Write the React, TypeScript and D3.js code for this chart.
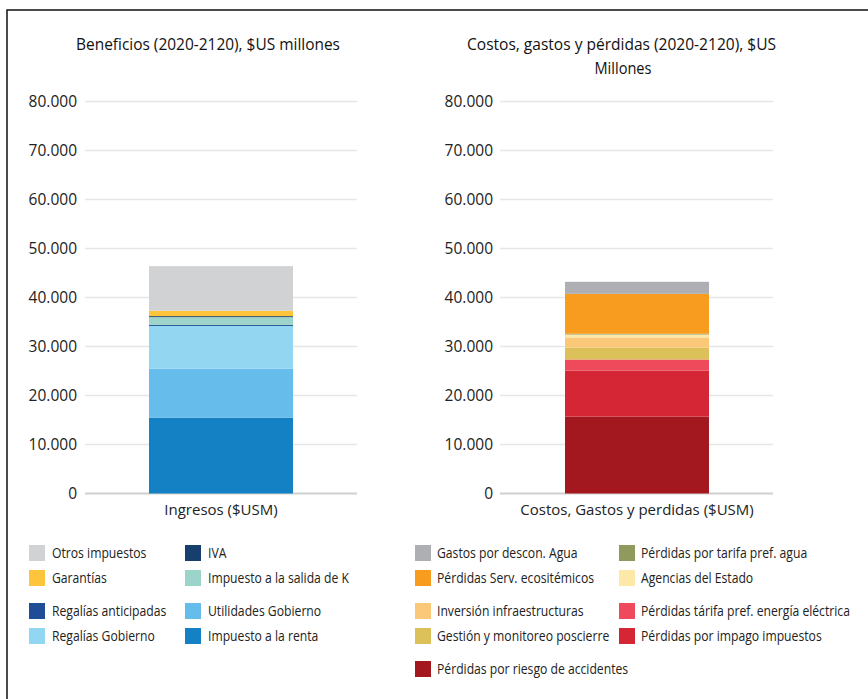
import React from "react";
import * as d3 from "d3";

const yTicks = [0, 10000, 20000, 30000, 40000, 50000, 60000, 70000, 80000];

const leftNames = [
  "Impuesto a la renta",
  "Utilidades Gobierno",
  "Regalías Gobierno",
  "Regalías anticipadas",
  "Impuesto a la salida de K",
  "IVA",
  "Garantías",
  "Otros impuestos",
];
const leftValues = [15500, 10000, 8700, 200, 1600, 200, 1100, 9100];
const leftColors = ["#1381c4", "#66bdeb", "#92d6f2", "#1f4e96", "#9dd4c9", "#163f6e", "#fec53c", "#d1d2d4"];
const leftLegendOrder = [
  "Otros impuestos", "IVA",
  "Garantías", "Impuesto a la salida de K",
  "Regalías anticipadas", "Utilidades Gobierno",
  "Regalías Gobierno", "Impuesto a la renta",
];

const rightNames = [
  "Pérdidas por riesgo de accidentes",
  "Pérdidas por impago impuestos",
  "Pérdidas tárifa pref. energía eléctrica",
  "Gestión y monitoreo poscierre",
  "Inversión infraestructuras",
  "Agencias del Estado",
  "Pérdidas por tarifa pref. agua",
  "Pérdidas Serv. ecositémicos",
  "Gastos por descon. Agua",
];
const rightValues = [15700, 9400, 2250, 2450, 2050, 600, 150, 8150, 2450];
const rightColors = ["#a3181f", "#d52635", "#ef4a5c", "#dcc05a", "#fbc87a", "#fde8a8", "#8f9a5c", "#f89c1f", "#adafb2"];
const rightLegendOrder = [
  "Gastos por descon. Agua", "Pérdidas por tarifa pref. agua",
  "Pérdidas Serv. ecositémicos", "Agencias del Estado",
  "Inversión infraestructuras", "Pérdidas tárifa pref. energía eléctrica",
  "Gestión y monitoreo poscierre", "Pérdidas por impago impuestos",
  "Pérdidas por riesgo de accidentes",
];

const FONT = "'Open Sans', 'Noto Sans', sans-serif";
const fmt = (v: number) => d3.format(",")(v).replace(/,/g, ".");

type PanelProps = {
  x0: number; x1: number; barX0: number; barX1: number;
  labelRight: number; names: string[]; values: number[]; colors: string[];
  title: { text: string; x: number; w: number }[]; category: string;
};

const y = d3.scaleLinear().domain([0, 80000]).range([493.5, 101.5]);

function Panel(p: PanelProps) {
  const stack = d3.stack<any>().keys(p.names)([
    Object.fromEntries(p.names.map((n, i) => [n, p.values[i]])),
  ]);
  const bx = d3.scaleBand().domain([p.category]).range([p.barX0, p.barX1]).padding(0);
  return (
    <g>
      {p.title.map((t, i) => (
        <text key={i} x={t.x - t.w / 2} y={50 + i * 24} textLength={t.w} lengthAdjust="spacingAndGlyphs" fontSize={15.5} fill="#111" fontFamily={FONT}>{t.text}</text>
      ))}
      {yTicks.map((t) => (
        <g key={t}>
          <line x1={p.x0} x2={p.x1} y1={y(t)} y2={y(t)} stroke={t === 0 ? "#cfcfcf" : "#e6e6e6"} strokeWidth={t === 0 ? 2 : 1.5} />
          <text x={p.labelRight} y={y(t)} dy="0.35em" textAnchor="end" fontSize={15.5} fill="#222" fontFamily={FONT}>{fmt(t)}</text>
        </g>
      ))}
      {stack.map((s, i) => (
        <rect key={p.names[i]} x={bx(p.category)} width={bx.bandwidth()} y={y(s[0][1])} height={y(s[0][0]) - y(s[0][1])} fill={p.colors[i]} />
      ))}
      <text x={(p.barX0 + p.barX1) / 2} y={515} textAnchor="middle" fontSize={15} fill="#222" fontFamily={FONT}>{p.category}</text>
    </g>
  );
}

function Legend({ order, names, colors, x, colX, textOff }: { order: string[]; names: string[]; colors: string[]; x: number; colX: number; textOff: number }) {
  const rowsY = [553, 578, 611, 636, 669];
  return (
    <g>
      {order.map((n, i) => {
        const row = Math.floor(i / 2);
        const col = i % 2;
        const lx = x + col * colX;
        const ly = rowsY[row];
        return (
          <g key={n}>
            <rect x={lx} y={ly - 8} width={16} height={16} fill={colors[names.indexOf(n)]} />
            <g transform={`translate(${lx + textOff},${ly}) scale(0.87,1)`}>
              <text x={0} y={0} dy="0.35em" fontSize={14} fill="#222" fontFamily={FONT}>{n}</text>
            </g>
          </g>
        );
      })}
    </g>
  );
}

export default function App() {
  return (
    <svg width={868} height={699} style={{ position: "absolute", left: 0, top: 0, background: "#fff" }}>
      <rect x={0} y={0} width={868} height={699} fill="#fff" />
      <path d="M7,699 V10 H868" fill="none" stroke="#111" strokeWidth={1.5} />
      <Panel x0={85} x1={357} barX0={149} barX1={293} labelRight={77} names={leftNames} values={leftValues} colors={leftColors}
        title={[{ text: "Beneficios (2020-2120), $US millones", x: 208, w: 264 }]} category="Ingresos ($USM)" />
      <Panel x0={500} x1={773} barX0={565} barX1={709} labelRight={493} names={rightNames} values={rightValues} colors={rightColors}
        title={[{ text: "Costos, gastos y pérdidas (2020-2120), $US", x: 621.5, w: 309 }, { text: "Millones", x: 623, w: 57 }]} category="Costos, Gastos y perdidas ($USM)" />
      <Legend order={leftLegendOrder} names={leftNames} colors={leftColors} x={29} colX={156} textOff={23} />
      <Legend order={rightLegendOrder} names={rightNames} colors={rightColors} x={415} colX={204} textOff={22} />
    </svg>
  );
}
